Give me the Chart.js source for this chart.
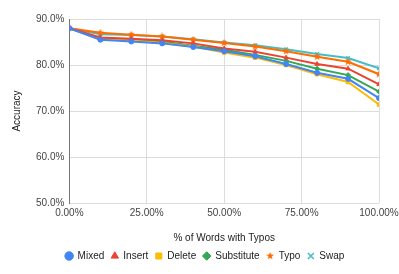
<!DOCTYPE html>
<html><head><meta charset="utf-8">
<script src="https://cdn.jsdelivr.net/npm/chart.js@4"></script>
<style>html,body{margin:0;padding:0;background:#fff}#wrap{width:399px;height:274px}</style>
</head><body><div id="wrap"><canvas id="c"></canvas></div>
<script>
const xValues = [0, 10, 20, 30, 40, 50, 60, 70, 80, 90, 100];
const seriesNames = ['Mixed', 'Insert', 'Delete', 'Substitute', 'Typo', 'Swap'];
const mixed      = [88.0, 85.5, 85.1, 84.7, 83.9, 83.0, 81.9, 80.2, 78.3, 77.0, 72.8];
const insert     = [88.0, 86.0, 85.7, 85.4, 84.7, 83.6, 82.9, 81.6, 80.2, 79.2, 75.8];
const del        = [88.0, 85.6, 85.3, 84.8, 84.0, 82.7, 81.6, 80.0, 78.0, 76.3, 71.4];
const substitute = [88.0, 85.7, 85.5, 85.1, 84.2, 83.3, 82.2, 80.9, 79.2, 77.8, 74.2];
const typo       = [88.0, 87.0, 86.6, 86.2, 85.5, 84.8, 84.0, 83.0, 81.8, 80.7, 78.0];
const swap       = [88.0, 86.7, 86.5, 86.2, 85.6, 84.9, 84.3, 83.4, 82.4, 81.5, 79.3];
const yTicks = [50, 60, 70, 80, 90];
const xTicks = [0, 25, 50, 75, 100];

function starCanvas(color, size) {
  const c = document.createElement('canvas');
  c.width = size; c.height = size;
  const ctx = c.getContext('2d');
  const cx = size / 2, cy = size / 2, R = size / 2, r = R * 0.45;
  ctx.beginPath();
  for (let i = 0; i < 10; i++) {
    const a = -Math.PI / 2 + i * Math.PI / 5;
    const rr = i % 2 === 0 ? R : r;
    ctx.lineTo(cx + rr * Math.cos(a), cy + rr * Math.sin(a));
  }
  ctx.closePath();
  ctx.fillStyle = color; ctx.fill();
  return c;
}

const colors = ['#4285F4', '#EA4335', '#FBBC04', '#34A853', '#FF6D01', '#46BDC6'];
const styles = ['circle', 'triangle', 'rect', 'rectRot', starCanvas('#FF6D01', 8), 'crossRot'];
const values = [mixed, insert, del, substitute, typo, swap];

const datasets = seriesNames.map((name, i) => ({
  label: name,
  data: xValues.map((x, j) => ({x: x, y: values[i][j]})),
  borderColor: colors[i],
  backgroundColor: colors[i],
  borderWidth: 2,
  pointStyle: styles[i],
  pointRadius: 2.5,
  pointBorderWidth: i === 5 ? 1.5 : 1,
  tension: 0
}));

Chart.defaults.font.family = '"Liberation Sans", Arial, sans-serif';
Chart.defaults.font.size = 10;
Chart.defaults.color = '#444';

new Chart(document.getElementById('c'), {
  type: 'line',
  data: {datasets},
  options: {
    responsive: true,
    maintainAspectRatio: false,
    animation: false,
    layout: {padding: {top: 19, right: 0, left: 11, bottom: 3}},
    plugins: {
      legend: {
        position: 'bottom',
        labels: {usePointStyle: true, boxWidth: 7, boxHeight: 6, padding: 7, color: '#222', font: {size: 10}}
      },
      tooltip: {enabled: false}
    },
    scales: {
      x: {
        type: 'linear', min: 0, max: 100,
        afterBuildTicks: s => { s.ticks = xTicks.map(v => ({value: v})); },
        afterFit: s => { s.paddingRight = 20; },
        ticks: {callback: v => v.toFixed(2) + '%', color: '#444', padding: 4, maxRotation: 0},
        grid: {color: ctx => ctx.index === 0 ? '#777' : '#dcdcdc', lineWidth: 1, drawTicks: false},
        border: {display: false},
        title: {display: true, text: '% of Words with Typos', color: '#222', font: {size: 10}, padding: {top: 9, bottom: 0}}
      },
      y: {
        min: 50, max: 90,
        afterBuildTicks: s => { s.ticks = yTicks.map(v => ({value: v})); },
        ticks: {callback: v => v.toFixed(1) + '%', color: '#444', padding: 5},
        grid: {color: '#dcdcdc', lineWidth: 1, drawTicks: false},
        border: {display: true, color: '#777', width: 1},
        title: {display: true, text: 'Accuracy', color: '#222', font: {size: 10}, padding: {top: 0, bottom: 8}}
      }
    }
  }
});
</script></body></html>
